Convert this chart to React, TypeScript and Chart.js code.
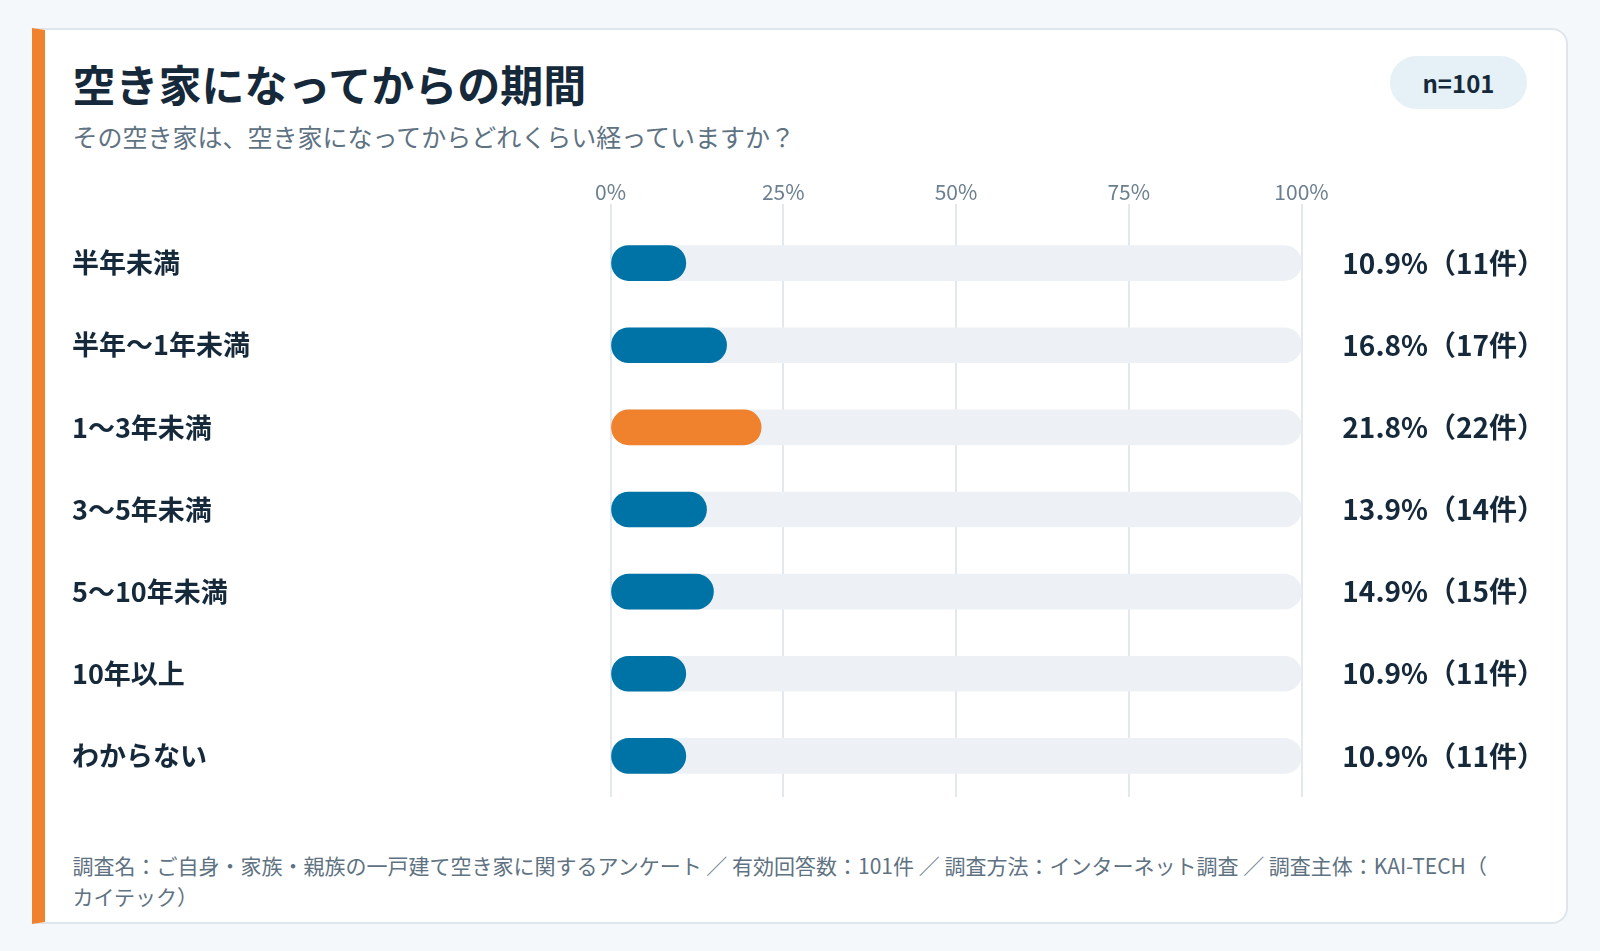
import React, { useEffect, useRef } from 'react';
import Chart from 'chart.js/auto';

const FONT = '"Noto Sans CJK JP", "Noto Sans", sans-serif';

const categories = ['半年未満', '半年～1年未満', '1～3年未満', '3～5年未満', '5～10年未満', '10年以上', 'わからない'];
const percents = [10.9, 16.8, 21.8, 13.9, 14.9, 10.9, 10.9];
const counts = [11, 17, 22, 14, 15, 11, 11];
const trackValues = [100, 100, 100, 100, 100, 100, 100];
const xTicks = [0, 25, 50, 75, 100];
const highlightIndex = 2;

const BLUE = '#0073a6';
const ORANGE = '#f0812d';
const TRACK = '#edf1f5';
const DARK = '#15293a';
const MUTED = '#5e7282';

const valueLabels = percents.map((p, i) => `${p.toFixed(1)}%（${counts[i]}件）`);

// vertical axes: keep fixed widths and stop label half-heights from shrinking the plot
const fixWidth = (w: number) => (scale: any) => {
  scale.width = w;
  scale.paddingTop = 0;
  scale.paddingBottom = 0;
};

const DurationChart: React.FC = () => {
  const canvasRef = useRef<HTMLCanvasElement>(null);
  const chartRef = useRef<Chart | null>(null);

  useEffect(() => {
    if (!canvasRef.current) return;
    if (chartRef.current) chartRef.current.destroy();

    chartRef.current = new Chart(canvasRef.current, {
      type: 'bar',
      data: {
        labels: categories,
        datasets: [
          {
            label: '割合',
            data: percents,
            backgroundColor: percents.map((_, i) => (i === highlightIndex ? ORANGE : BLUE)),
            borderRadius: 17.5,
            borderSkipped: false,
            barThickness: 35,
            grouped: false,
            yAxisID: 'y',
          },
          {
            label: 'track',
            data: trackValues,
            backgroundColor: TRACK,
            borderRadius: 17.5,
            borderSkipped: false,
            barThickness: 35,
            grouped: false,
            yAxisID: 'y',
          },
        ],
      },
      options: {
        indexAxis: 'y',
        responsive: true,
        maintainAspectRatio: false,
        animation: false,
        layout: { padding: { top: 0, bottom: 10, left: 0, right: 0 } },
        scales: {
          x: {
            position: 'top',
            min: 0,
            max: 100,
            afterBuildTicks: (scale: any) => {
              scale.ticks = xTicks.map((v) => ({ value: v }));
            },
            afterFit: (scale: any) => {
              scale.height = 52;
            },
            ticks: {
              callback: (v: any) => `${v}%`,
              color: '#6b7f8f',
              font: { family: FONT, size: 21 },
              padding: -1,
            },
            grid: { color: '#e3e8ee', lineWidth: 2, tickLength: 18 },
            border: { display: false },
          },
          y: {
            type: 'category',
            position: 'left',
            offset: true,
            afterFit: fixWidth(538.5),
            ticks: {
              crossAlign: 'far',
              color: DARK,
              font: { family: FONT, size: 27, weight: 'bold' },
            },
            grid: { display: false },
            border: { display: false },
          },
          y2: {
            type: 'category',
            position: 'right',
            offset: true,
            labels: valueLabels,
            afterFit: fixWidth(243.5),
            ticks: {
              crossAlign: 'far',
              padding: 24,
              color: DARK,
              font: { family: FONT, size: 28, weight: 'bold' },
            },
            grid: { display: false, drawTicks: false },
            border: { display: false },
          },
        },
        plugins: {
          legend: { display: false },
          tooltip: { enabled: false },
        },
      },
    });

    return () => {
      if (chartRef.current) {
        chartRef.current.destroy();
        chartRef.current = null;
      }
    };
  }, []);

  return (
    <div style={{ position: 'absolute', left: 27, top: 140, width: 1473, height: 637 }}>
      <canvas ref={canvasRef} role="img" aria-label="空き家になってからの期間の割合" />
    </div>
  );
};

const App: React.FC = () => {
  useEffect(() => {
    document.body.style.margin = '0';
    document.body.style.background = '#f5f8fb';
  }, []);

  return (
    <div style={{ width: 1600, height: 951, background: '#f5f8fb', position: 'relative', fontFamily: FONT }}>
      <div
        style={{
          position: 'absolute',
          left: 32,
          top: 28,
          width: 1536,
          height: 896,
          boxSizing: 'border-box',
          background: '#ffffff',
          border: '2px solid #dde6ec',
          borderLeft: `13px solid ${ORANGE}`,
          borderRadius: '0 16px 16px 0',
        }}
      >
        <div style={{ position: 'absolute', left: 27.5, top: 27, fontSize: 43, lineHeight: '52px', fontWeight: 700, color: DARK, whiteSpace: 'nowrap' }}>
          空き家になってからの期間
        </div>
        <div style={{ position: 'absolute', left: 27.5, top: 90, fontSize: 25, lineHeight: '32px', color: MUTED, whiteSpace: 'nowrap' }}>
          その空き家は、空き家になってからどれくらい経っていますか？
        </div>
        <div
          style={{
            position: 'absolute',
            left: 1345,
            top: 26,
            width: 137,
            height: 53,
            borderRadius: 26.5,
            background: '#e5f1f6',
            color: DARK,
            fontSize: 24,
            fontWeight: 700,
            display: 'flex',
            alignItems: 'center',
            justifyContent: 'center',
          }}
        >
          n=101
        </div>
        <DurationChart />
        <div
          style={{
            position: 'absolute',
            left: 27.5,
            top: 820,
            width: 1435,
            fontSize: 21,
            lineHeight: '31px',
            color: MUTED,
            lineBreak: 'anywhere',
          }}
        >
          調査名：ご自身・家族・親族の一戸建て空き家に関するアンケート ／ 有効回答数：101件 ／ 調査方法：インターネット調査 ／ 調査主体：KAI-TECH（カイテック）
        </div>
      </div>
    </div>
  );
};

export default App;
